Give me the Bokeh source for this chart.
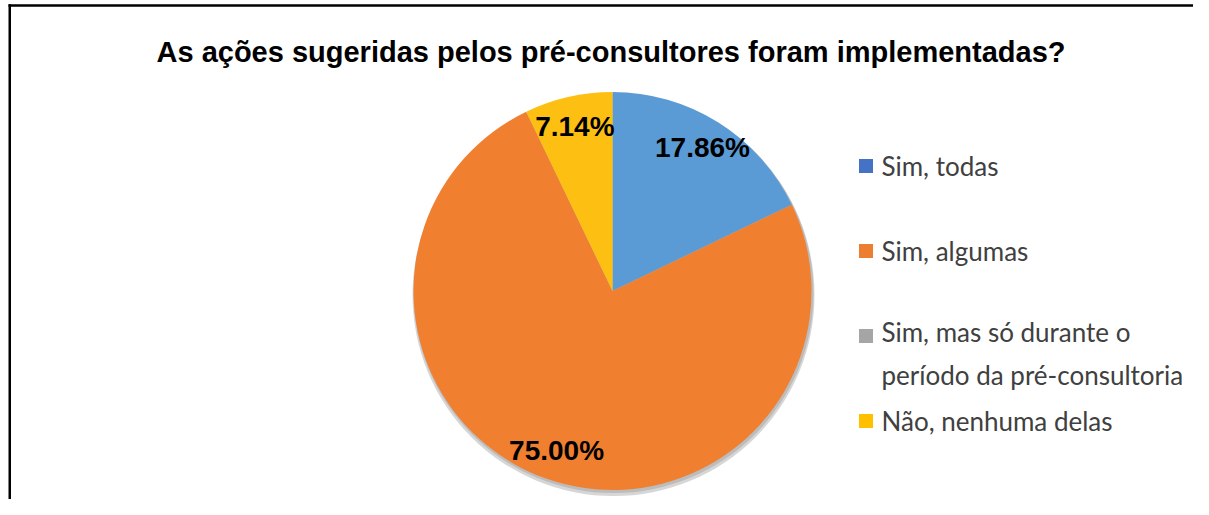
import numpy as np
from bokeh.plotting import figure
from bokeh.models import ColumnDataSource, Range1d
from bokeh.core.properties import value
from bokeh.embed import file_html
from bokeh.resources import INLINE

# ---- data ----
title = "As ações sugeridas pelos pré-consultores foram implementadas?"
categories = ["Sim, todas", "Sim, algumas",
              "Sim, mas só durante o\nperíodo da pré-consultoria",
              "Não, nenhuma delas"]
values = [17.86, 75.00, 0.0, 7.14]
slice_colors = ["#5B9BD5", "#F07F30", "#A5A5A5", "#FDC012"]
legend_colors = ["#4472C4", "#ED7D31", "#A5A5A5", "#FFC000"]

# ---- layout (picture pixels; y measured upward from the bottom) ----
W, H = 1193, 499
cx, cy, R = 612, 208.5, 199

p = figure(width=W, height=H, output_backend="svg", toolbar_location=None,
           x_range=Range1d(0, W), y_range=Range1d(0, H),
           x_axis_location=None, y_axis_location=None,
           min_border=0, outline_line_color=None)
p.grid.visible = False
p.background_fill_color = "white"
p.border_fill_color = "white"

vals = np.array(values, dtype=float)
frac = vals / vals.sum()
cum = np.concatenate([[0], np.cumsum(frac)])
start = np.pi / 2 - 2 * np.pi * cum[:-1]
end = np.pi / 2 - 2 * np.pi * cum[1:]
mid = (start + end) / 2
keep = vals > 0

# soft shadow under the pie
p.circle(x=[cx + 1], y=[cy - 4], radius=R + 2, fill_color="#000000",
         fill_alpha=0.16, line_color=None)
p.circle(x=[cx + 1], y=[cy - 2], radius=R + 1, fill_color="#000000",
         fill_alpha=0.12, line_color=None)

src = ColumnDataSource(dict(
    start=start[keep], end=end[keep],
    color=[c for c, k in zip(slice_colors, keep) if k]))
p.wedge(x=cx, y=cy, radius=R, start_angle="start", end_angle="end",
        direction="clock", fill_color="color", line_color=None, source=src)

# data labels
lab_r = 0.85 * R
lsrc = ColumnDataSource(dict(
    x=(cx + lab_r * np.cos(mid))[keep],
    y=(cy + lab_r * np.sin(mid))[keep],
    t=["%.2f%%" % v for v in vals[keep]]))
p.text(x="x", y="y", text="t", source=lsrc, text_align="center",
       text_baseline="middle", text_font=value("Liberation Sans"),
       text_font_style="bold", text_font_size="28px", text_color="black")

# title
p.text(x=[610.5], y=[447.5], text=[title], text_align="center",
       text_baseline="alphabetic",
       text_font=value("Liberation Sans"), text_font_style="bold",
       text_font_size="29px", text_color="black")

# legend (manual)
lx, ly0, lstep, line_h, fs = 865.5, 333.5, 85, 35, 26
n_lines = np.array([c.count("\n") + 1 for c in categories])
ly = ly0 - lstep * np.arange(len(categories))
p.scatter(x=[lx] * len(categories), y=ly, marker="square", size=14,
          fill_color=legend_colors, line_color=None)
p.text(x=[881] * len(categories), y=ly - (n_lines - 1) * line_h / 2,
       text=categories, text_align="left", text_baseline="middle",
       text_font=value("Lato"), text_font_size="%dpx" % fs,
       text_color="#404040", text_line_height=line_h / fs)

# chart border: left and top edges
p.quad(left=[8.0, 8.0], right=[10.5, W + 5], bottom=[-5, 492.75],
       top=[495.25, 495.25], fill_color="black", line_color=None)

open("out.html", "w").write(file_html(p, INLINE))
